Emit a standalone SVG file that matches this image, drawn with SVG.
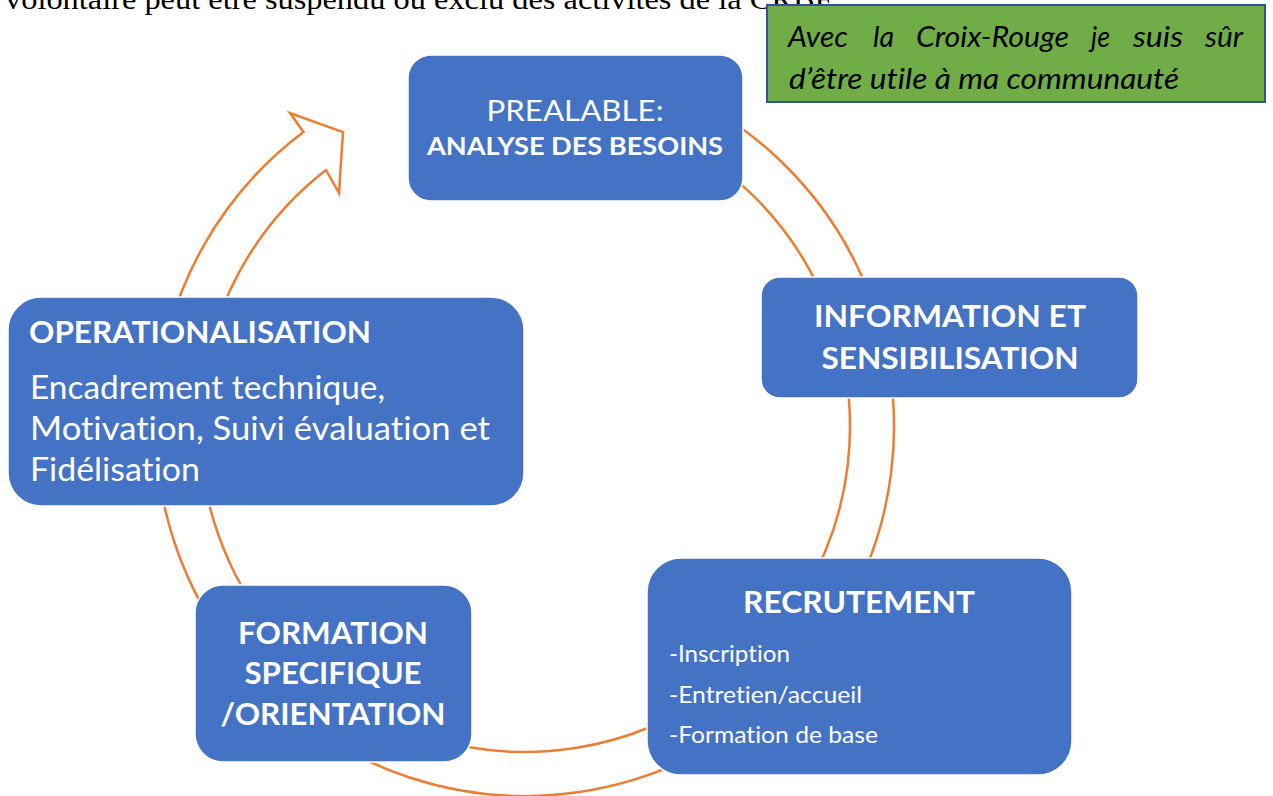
<svg xmlns="http://www.w3.org/2000/svg" width="1273" height="796" viewBox="0 0 1273 796">
<style>
.box{fill:#4472C4;stroke:#FFFFFF;stroke-width:1.5}
.t{font-family:Lato,"Liberation Sans",sans-serif;fill:#FFFFFF;font-variant-ligatures:none}
.b{font-weight:bold}
.c{text-anchor:middle}
.ring{fill:none;stroke:#ED7D31;stroke-width:2.5;stroke-linejoin:miter}
.doc{font-family:"Liberation Serif","Times New Roman",serif;font-size:30px;fill:#000000}
.note{font-family:Lato,"Liberation Sans",sans-serif;font-style:italic;font-size:28px;fill:#000000;font-variant-ligatures:none}
</style>
<rect x="0" y="0" width="1273" height="796" fill="#FFFFFF"/>
<text class="doc" x="5" y="9" textLength="833" lengthAdjust="spacingAndGlyphs">volontaire peut être suspendu ou exclu des activités de la CRBF.</text>
<g id="connectors">
<path class="ring" d="M651.2,80.3 A369,369 0 1 1 303.5,131.9 L290,113 L343,132 L339,193 L326,170 A325,325 0 1 0 636.2,121.6 Z"/>
</g>
<g id="note">
<rect x="767" y="5" width="498" height="97" fill="#70AD47" stroke="#2F5597" stroke-width="2"/>
<text class="note" y="47"><tspan x="788" textLength="60" lengthAdjust="spacingAndGlyphs">Avec</tspan><tspan x="873" textLength="21" lengthAdjust="spacingAndGlyphs">la</tspan><tspan x="916" textLength="153" lengthAdjust="spacingAndGlyphs">Croix-Rouge</tspan><tspan x="1091" textLength="19" lengthAdjust="spacingAndGlyphs">je</tspan><tspan x="1133" textLength="50" lengthAdjust="spacingAndGlyphs">suis</tspan><tspan x="1205" textLength="38" lengthAdjust="spacingAndGlyphs">sûr</tspan></text>
<text class="note" x="789" y="89" textLength="390" lengthAdjust="spacingAndGlyphs">d’être utile à ma communauté</text>
</g>
<g id="prealable">
<rect class="box" x="408" y="55" width="335" height="146" rx="23"/>
<text class="t c" x="575" y="121" font-size="29" textLength="177" lengthAdjust="spacingAndGlyphs">PREALABLE:</text>
<text class="t b c" x="575" y="155" font-size="24" textLength="296" lengthAdjust="spacingAndGlyphs">ANALYSE DES BESOINS</text>
</g>
<g id="information">
<rect class="box" x="761" y="277" width="377" height="121" rx="19"/>
<text class="t b c" x="950" y="327" font-size="30" textLength="272" lengthAdjust="spacingAndGlyphs">INFORMATION ET</text>
<text class="t b c" x="950" y="369" font-size="30" textLength="257" lengthAdjust="spacingAndGlyphs">SENSIBILISATION</text>
</g>
<g id="recrutement">
<rect class="box" x="647" y="558" width="425" height="217" rx="34"/>
<text class="t b c" x="859" y="613" font-size="30" textLength="232" lengthAdjust="spacingAndGlyphs">RECRUTEMENT</text>
<text class="t" x="669" y="662" font-size="24" textLength="121" lengthAdjust="spacingAndGlyphs">-Inscription</text>
<text class="t" x="669" y="703" font-size="24" textLength="193" lengthAdjust="spacingAndGlyphs">-Entretien/accueil</text>
<text class="t" x="669" y="743" font-size="24" textLength="209" lengthAdjust="spacingAndGlyphs">-Formation de base</text>
</g>
<g id="formation">
<rect class="box" x="195" y="585" width="277" height="177" rx="28"/>
<text class="t b c" x="333" y="644" font-size="30" textLength="190" lengthAdjust="spacingAndGlyphs">FORMATION</text>
<text class="t b c" x="333" y="684" font-size="30" textLength="177" lengthAdjust="spacingAndGlyphs">SPECIFIQUE</text>
<text class="t b c" x="333" y="725" font-size="30" textLength="225" lengthAdjust="spacingAndGlyphs">/ORIENTATION</text>
</g>
<g id="operationalisation">
<rect class="box" x="8" y="297" width="516" height="209" rx="33"/>
<text class="t b" x="29" y="343" font-size="31" textLength="342" lengthAdjust="spacingAndGlyphs">OPERATIONALISATION</text>
<text class="t" x="30" y="399" font-size="32" textLength="355" lengthAdjust="spacingAndGlyphs">Encadrement technique,</text>
<text class="t" x="30" y="440" font-size="32" textLength="460" lengthAdjust="spacingAndGlyphs">Motivation, Suivi évaluation et</text>
<text class="t" x="30" y="481" font-size="32" textLength="170" lengthAdjust="spacingAndGlyphs">Fidélisation</text>
</g>
</svg>
